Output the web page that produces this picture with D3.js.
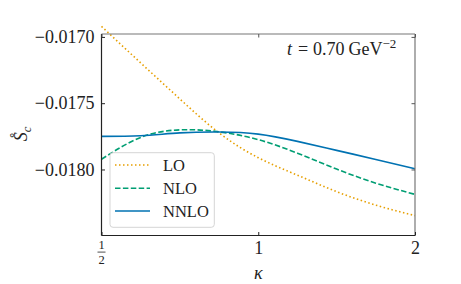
<!DOCTYPE html>
<html>
<head>
<meta charset="utf-8">
<script src="https://cdn.jsdelivr.net/npm/d3@7"></script>
<style>
  body { margin: 0; background: #fff; }
  text { font-family: "Liberation Serif", "DejaVu Serif", serif; fill: #222; }
</style>
</head>
<body>
<div id="container"></div>
<script>
// kappa sample points (log-spaced from 1/2 to 2)
const kappa = [0.5, 0.5946, 0.7071, 0.8409, 1, 1.1892, 1.4142, 1.6818, 2];
const seriesNames = ["LO", "NLO", "NNLO"];
const lo   = [-0.016921, -0.017196, -0.017468, -0.017724, -0.017911, -0.018043, -0.018167, -0.018269, -0.018348];
const nlo  = [-0.017923, -0.017758, -0.017701, -0.017716, -0.017775, -0.017877, -0.017997, -0.018103, -0.018188];
const nnlo = [-0.017750, -0.017745, -0.017724, -0.017717, -0.017733, -0.017788, -0.017856, -0.017924, -0.017994];
const yTicks = [-0.0170, -0.0175, -0.0180];
const yTickLabels = ["\u22120.0170", "\u22120.0175", "\u22120.0180"];

const width = 461;
const height = 284;
const marginLeft = 101.5;
const marginRight = 46;
const marginTop = 34;
const marginBottom = 48.5;

const svg = d3.create("svg").attr("width", width).attr("height", height);

const x = d3.scaleLog().base(2)
  .domain([0.5, 2])
  .range([marginLeft, width - marginRight]);

const y = d3.scaleLinear()
  .domain([-0.018498, -0.016978])
  .range([height - marginBottom, marginTop]);

const colors = ["#E69F00", "#009E73", "#0072B2"];
const dashes = ["1.5,2.5", "5.5,2.4", null];
const allSeries = [lo, nlo, nnlo];

const line = d3.line()
  .x((d, i) => x(kappa[i]))
  .y(d => y(d))
  .curve(d3.curveNatural);

// curves
const plot = svg.append("g");
allSeries.forEach((s, k) => {
  plot.append("path")
    .datum(s)
    .attr("fill", "none")
    .attr("stroke", colors[k])
    .attr("stroke-width", 1.6)
    .attr("stroke-dasharray", dashes[k])
    .attr("d", line);
});

// frame: top/right gray, left/bottom dark
const x0 = marginLeft, x1 = width - marginRight, y0 = marginTop, y1 = height - marginBottom;
svg.append("line").attr("x1", x0).attr("x2", x1).attr("y1", y0).attr("y2", y0).attr("stroke", "#777").attr("stroke-width", 1.2);
svg.append("line").attr("x1", x1).attr("x2", x1).attr("y1", y0).attr("y2", y1).attr("stroke", "#777").attr("stroke-width", 1.2);
svg.append("line").attr("x1", x0).attr("x2", x0).attr("y1", y0).attr("y2", y1).attr("stroke", "#222").attr("stroke-width", 1.2);
svg.append("line").attr("x1", x0).attr("x2", x1).attr("y1", y1).attr("y2", y1).attr("stroke", "#222").attr("stroke-width", 1.2);

// y axis (inward ticks, mirrored)
const yAxis = svg.append("g").attr("transform", `translate(${x0},0)`)
  .call(d3.axisLeft(y).tickValues(yTicks).tickSize(-3.5).tickPadding(7)
    .tickFormat((d, i) => yTickLabels[i]));
yAxis.select(".domain").remove();
yAxis.selectAll("text").attr("font-size", 18).attr("font-family", "Liberation Serif, serif").attr("fill", "#222");
yAxis.selectAll("line").attr("stroke", "#222");

const yAxisR = svg.append("g").attr("transform", `translate(${x1},0)`)
  .call(d3.axisRight(y).tickValues(yTicks).tickSize(-3.5).tickFormat(""));
yAxisR.select(".domain").remove();
yAxisR.selectAll("line").attr("stroke", "#555");

// x axis
const xAxis = svg.append("g").attr("transform", `translate(0,${y1})`)
  .call(d3.axisBottom(x).tickValues([0.5, 1, 2]).tickSize(-3.5).tickPadding(6)
    .tickFormat(d => d === 0.5 ? "" : String(d)));
xAxis.select(".domain").remove();
xAxis.selectAll("text").attr("font-size", 18).attr("font-family", "Liberation Serif, serif").attr("fill", "#222");
xAxis.selectAll("line").attr("stroke", "#222");

const xAxisT = svg.append("g").attr("transform", `translate(0,${y0})`)
  .call(d3.axisTop(x).tickValues([0.5, 1, 2]).tickSize(-3.5).tickFormat(""));
xAxisT.select(".domain").remove();
xAxisT.selectAll("line").attr("stroke", "#555");

// fraction 1/2 label
const frac = svg.append("g").attr("transform", `translate(${x(0.5)},${y1})`);
frac.append("text").attr("text-anchor", "middle").attr("y", 13.8).attr("font-size", 12.5).text("1");
frac.append("line").attr("x1", -4).attr("x2", 4).attr("y1", 16.6).attr("y2", 16.6).attr("stroke", "#222").attr("stroke-width", 0.8);
frac.append("text").attr("text-anchor", "middle").attr("y", 28).attr("font-size", 12.5).text("2");

// axis labels
svg.append("text")
  .attr("x", x(1)).attr("y", 279)
  .attr("text-anchor", "middle")
  .attr("font-size", 18)
  .attr("font-style", "italic")
  .text("\u03BA");

const ylab = svg.append("text")
  .attr("transform", "translate(27,134) rotate(-90)")
  .attr("text-anchor", "middle")
  .attr("font-size", 18)
  .attr("font-style", "italic");
ylab.append("tspan").text("S\u030A");
ylab.append("tspan").attr("font-size", 12.5).attr("dy", 4).text("c");

// annotation t = 0.70 GeV^-2
const ann = svg.append("text").attr("y", 54.5).attr("font-size", 18);
ann.append("tspan").attr("x", 287).attr("font-style", "italic").text("t");
ann.append("tspan").attr("x", 298).text("=");
ann.append("tspan").attr("x", 313).text("0.70");
ann.append("tspan").attr("x", 348.5).text("GeV");
ann.append("tspan").attr("x", 382.5).attr("dy", -7).attr("font-size", 13).text("\u22122");

// legend
const legend = svg.append("g");
legend.append("rect")
  .attr("x", 110).attr("y", 152.7)
  .attr("width", 104.3).attr("height", 74.6)
  .attr("rx", 3)
  .attr("fill", "#fff").attr("fill-opacity", 0.8)
  .attr("stroke", "#d5d5d5").attr("stroke-width", 1);
const legendY = [165, 188.3, 211];
seriesNames.forEach((name, k) => {
  legend.append("line")
    .attr("x1", 115).attr("x2", 150)
    .attr("y1", legendY[k]).attr("y2", legendY[k])
    .attr("stroke", colors[k]).attr("stroke-width", 1.6)
    .attr("stroke-dasharray", dashes[k]);
  legend.append("text")
    .attr("x", 163).attr("y", legendY[k] + 6)
    .attr("font-size", 16.5)
    .text(name);
});

document.getElementById("container").append(svg.node());
</script>
</body>
</html>
